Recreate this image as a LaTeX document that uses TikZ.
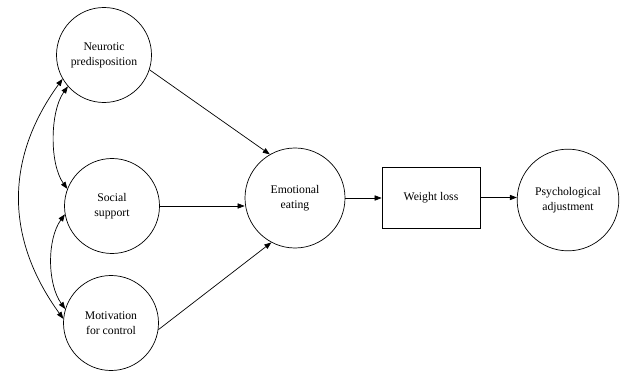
\documentclass[tikz,border=0pt]{standalone}
\usepackage{fontspec}
\setmainfont{Liberation Serif}
\usetikzlibrary{arrows.meta}
\begin{document}
\begin{tikzpicture}[x=0.03cm,y=-0.03cm,line width=0.6pt,>={Triangle[length=6pt,width=4.5pt]},
    var/.style={draw,circle,minimum size=2.85cm,inner sep=0pt,align=center,font=\fontsize{10}{13}\selectfont},
    box/.style={draw,minimum width=2.94cm,minimum height=1.83cm,font=\fontsize{10}{13}\selectfont}]
    \useasboundingbox (0,0) rectangle (621,372);
    \node[var] (neuro) at (104,55) {Neurotic\\predisposition};
    \node[var] (social) at (112,206) {Social\\support};
    \node[var] (motiv) at (111,323) {Motivation\\for control};
    \node[var,minimum size=3cm] (emo) at (295,198) {Emotional\\eating};
    \node[box] (wl) at (431,197.5) {Weight loss};
    \node[var,minimum size=3.05cm] (psych) at (568,200) {Psychological\\adjustment};
    \draw[->] (neuro.-18) -- (emo.120);
    \draw[->] (social.east) -- (social.east -| emo.west);
    \draw[->] (motiv.-8) -- (emo.242);
    \draw[->] (emo.east) -- (emo.east -| wl.west);
    \draw[->] (wl.east) -- (wl.east -| psych.west);
    \draw[<->] (neuro.210) .. controls +(-58,80) and +(-58,-80) .. (motiv.175);
    \draw[<->] (neuro.221) .. controls +(-18,25) and +(-18,-25) .. (social.159);
    \draw[<->] (social.190) .. controls +(-18,25) and +(-18,-25) .. (motiv.163);
\end{tikzpicture}
\end{document}
